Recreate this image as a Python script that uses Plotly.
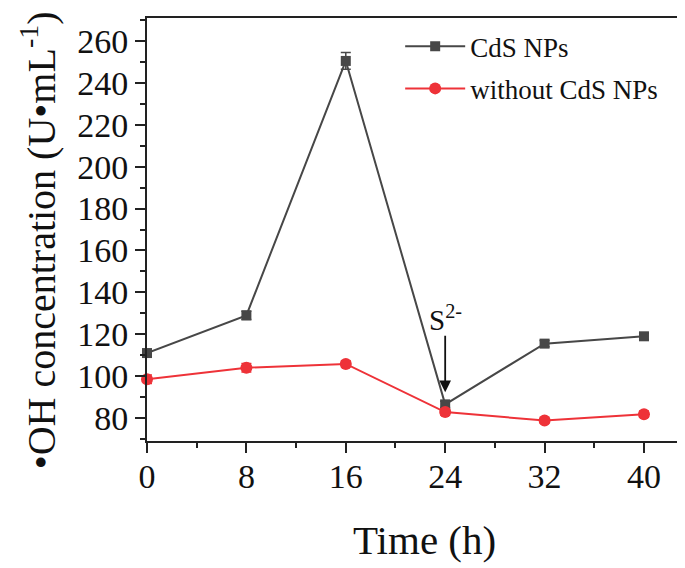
import plotly.graph_objects as go

time_h = [0, 8, 16, 24, 32, 40]
cds_np = [111, 129, 250.5, 86.5, 115.5, 119]
cds_err = [1.5, 2, 4, 1.5, 1.5, 1.5]
no_cds = [98.5, 104, 105.8, 82.8, 78.8, 81.8]
no_cds_err = [2, 2, 1.5, 1.5, 1.2, 1.5]

FONT = "Liberation Serif"
GRAY = "#474747"
RED = "#ee3238"

fig = go.Figure()
fig.add_trace(go.Scatter(
    x=time_h, y=cds_np, name="CdS NPs", mode="lines+markers", legendgroup="a",
    line=dict(color=GRAY, width=2),
    marker=dict(symbol="square", size=10, color=GRAY),
    error_y=dict(type="data", array=cds_err, color=GRAY, thickness=1.5, width=5),
    cliponaxis=False,
))
fig.add_trace(go.Scatter(
    x=time_h, y=no_cds, name="without CdS NPs", mode="lines+markers", legendgroup="b",
    line=dict(color=RED, width=2),
    marker=dict(symbol="circle", size=12, color=RED),
    error_y=dict(type="data", array=no_cds_err, color=RED, thickness=1.5, width=5),
    cliponaxis=False,
))

fig.add_annotation(
    x=24, y=87, xref="x", yref="y", ax=24, ay=120, axref="x", ayref="y",
    text="", showarrow=True, arrowhead=2, arrowsize=1.3, arrowwidth=1.8,
    arrowcolor="#111111", standoff=11,
)
fig.add_annotation(
    x=24, y=120, xref="x", yref="y", text="S<sup>2-</sup>", showarrow=False,
    yanchor="bottom", yshift=-4, font=dict(family=FONT, size=29, color="#111111"),
)

# axis titles
fig.add_annotation(
    x=0.52, y=-0.234, xref="paper", yref="paper", text="Time (h)", showarrow=False,
    xanchor="center", yanchor="middle", font=dict(family=FONT, size=41, color="#111"),
)
fig.add_annotation(
    x=-0.204, y=0.475, xref="paper", yref="paper",
    text="•OH concentration (U•mL<sup>-1</sup>)", showarrow=False, textangle=-90,
    xanchor="center", yanchor="middle", font=dict(family=FONT, size=40, color="#111"),
)

# page body has an 8px margin, so the figure is 8px smaller and shifted
fig.update_layout(
    width=677, height=560,
    margin=dict(l=139, r=5, t=10, b=127),
    paper_bgcolor="white", plot_bgcolor="white",
    font=dict(family=FONT, color="#111111"),
    showlegend=True,
    legend=dict(x=0.475, y=0.99, xanchor="left", yanchor="top",
                font=dict(family=FONT, size=27, color="#111111"),
                bgcolor="rgba(0,0,0,0)", itemwidth=60, tracegroupgap=4),
)
fig.update_xaxes(
    range=[0, 42.9], tickvals=time_h, ticktext=[str(t) for t in time_h],
    ticks="outside", ticklen=10, tickwidth=2, tickcolor="#222",
    minor=dict(dtick=4, tick0=0, ticks="outside", ticklen=5, tickwidth=2, tickcolor="#222"),
    showline=True, linecolor="#222", linewidth=2, mirror=True,
    showgrid=False, zeroline=False, automargin=False, ticklabelstandoff=-6,
    tickfont=dict(family=FONT, size=34, color="#111"),
)
fig.update_yaxes(
    range=[69, 271], tickvals=[80, 100, 120, 140, 160, 180, 200, 220, 240, 260],
    ticks="outside", ticklen=10, tickwidth=2, tickcolor="#222",
    minor=dict(dtick=10, tick0=0, ticks="outside", ticklen=5, tickwidth=2, tickcolor="#222"),
    showline=True, linecolor="#222", linewidth=2, mirror=True,
    showgrid=False, zeroline=False, automargin=False,
    tickfont=dict(family=FONT, size=34, color="#111"),
)

fig.write_html("out.html")
